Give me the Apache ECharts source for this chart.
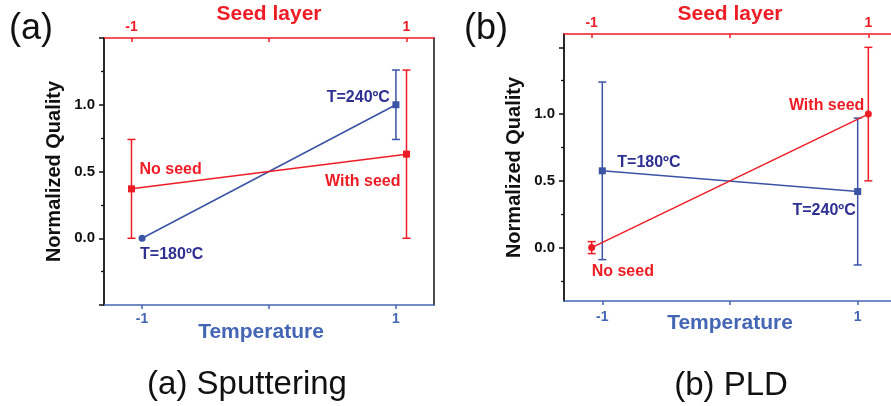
<!DOCTYPE html>
<html><head><meta charset="utf-8">
<script src="https://cdn.jsdelivr.net/npm/echarts@6/dist/echarts.min.js"></script>
<style>html,body{margin:0;padding:0;background:#fff}#c{width:891px;height:406px}</style>
</head><body><div id="c"></div>
<script>
// ---------- data ----------
const xLevels = [-1, 1];
const xTickVals = [-1, 0, 1];
const xLabelVals = [-1, 1];
const yLabelVals = [0, 0.5, 1.0];
const yMajorA = [-0.5, 0, 0.5, 1.0, 1.5];
const yMajorB = [0, 0.5, 1.0, 1.5];
const yMinor = [-0.25, 0.25, 0.75, 1.25];

// (a) Sputtering
const aTempVals = [0.0, 1.0];
const aTempErr  = [0.0, 0.26];
const aSeedVals = [0.37, 0.63];
const aSeedErr  = [0.37, 0.63];
const aTempText = ['T=180ºC', 'T=240ºC'];
const aSeedText = ['No seed', 'With seed'];

// (b) PLD
const bTempVals = [0.575, 0.42];
const bTempErr  = [0.665, 0.55];
const bSeedVals = [0.0, 1.0];
const bSeedErr  = [0.045, 0.5];
const bTempText = ['T=180ºC', 'T=240ºC'];
const bSeedText = ['No seed', 'With seed'];

const panelTags = ['(a)', '(b)'];
const captions = ['(a) Sputtering', '(b) PLD'];

// ---------- style ----------
const FF = '"Liberation Sans", Arial, sans-serif';
const RED = '#ee1c25';
const BLUE = '#3a53a4';
const NAVY = '#2e3192';
const AXBLUE = '#4466b4';
const BLACK = '#111111';

function tempAxis(gi, gap, pad, margin) {
  return {
    type: 'value', gridIndex: gi, position: 'bottom', min: -1.3, max: 1.3,
    name: 'Temperature', nameLocation: 'middle', nameGap: gap, nameMoveOverlap: false,
    nameTextStyle: {color: AXBLUE, fontSize: 21, fontWeight: 'bold', fontFamily: FF, padding: pad},
    axisLine: {show: true, onZero: false, lineStyle: {color: AXBLUE, width: 1.5}},
    axisTick: {show: true, inside: false, length: 4, customValues: xTickVals, lineStyle: {color: AXBLUE, width: 1.5}},
    axisLabel: {show: true, customValues: xLabelVals, margin: margin, color: AXBLUE, fontSize: 14, fontWeight: 'bold', fontFamily: FF,
      formatter: v => String(v)},
    splitLine: {show: false}
  };
}
function seedAxis(gi, gap, margin) {
  return {
    type: 'value', gridIndex: gi, position: 'top', min: -1.2, max: 1.2,
    name: 'Seed layer', nameLocation: 'middle', nameGap: gap, nameMoveOverlap: false,
    nameTextStyle: {color: RED, fontSize: 21, fontWeight: 'bold', fontFamily: FF},
    axisLine: {show: true, onZero: false, lineStyle: {color: RED, width: 1.5}},
    axisTick: {show: true, inside: true, length: 4, customValues: xTickVals, lineStyle: {color: RED, width: 1.5}},
    axisLabel: {show: true, customValues: xLabelVals, margin: margin, color: RED, fontSize: 14, fontWeight: 'bold', fontFamily: FF,
      formatter: v => String(v)},
    splitLine: {show: false}
  };
}
function qualAxis(gi, min, max, majors) {
  return {
    type: 'value', gridIndex: gi, position: 'left', min: min, max: max,
    name: 'Normalized Quality', nameLocation: 'middle', nameGap: 40, nameMoveOverlap: false,
    nameTextStyle: {color: BLACK, fontSize: 20, fontWeight: 'bold', fontFamily: FF},
    axisLine: {show: true, onZero: false, lineStyle: {color: BLACK, width: 1.8}},
    axisTick: {show: true, inside: false, length: 5, customValues: majors, lineStyle: {color: BLACK, width: 1.5}},
    axisLabel: {show: true, customValues: yLabelVals, margin: 9, color: BLACK, fontSize: 15, fontWeight: 'bold', fontFamily: FF,
      formatter: v => v.toFixed(1)},
    splitLine: {show: false}
  };
}
function minorAxis(gi, min, max) {
  return {
    type: 'value', gridIndex: gi, position: 'left', min: min, max: max,
    axisLine: {show: false, onZero: false},
    axisTick: {show: true, inside: false, length: 3, customValues: yMinor, lineStyle: {color: BLACK, width: 1.3}},
    axisLabel: {show: false}, splitLine: {show: false}
  };
}
function frameAxis(gi, min, max) {
  return {
    type: 'value', gridIndex: gi, position: 'right', min: min, max: max,
    axisLine: {show: true, onZero: false, lineStyle: {color: BLACK, width: 1.5}},
    axisTick: {show: false}, axisLabel: {show: false}, splitLine: {show: false}
  };
}

function lab(text, dx, dy, align, color) {
  return {show: true, formatter: text, position: 'inside', offset: [dx, dy], align: align, verticalAlign: 'middle',
    color: color, fontSize: 16, fontWeight: 'bold', fontFamily: FF};
}

function lineSeries(name, xi, yi, vals, color, symbols, labels) {
  return {
    name: name, type: 'line', xAxisIndex: xi, yAxisIndex: yi, z: 3,
    lineStyle: {color: color, width: 1.5}, itemStyle: {color: color},
    symbolSize: 7, showAllSymbol: true,
    data: xLevels.map((x, i) => ({value: [x, vals[i]], symbol: symbols[i], label: labels[i]}))
  };
}
function errSeries(xi, yi, vals, errs, color) {
  return {
    type: 'custom', xAxisIndex: xi, yAxisIndex: yi, z: 2, silent: true, clip: false,
    encode: {x: 0, y: [1, 2]},
    data: xLevels.map((x, i) => [x, vals[i] - errs[i], vals[i] + errs[i]]),
    renderItem: function (params, api) {
      const x = api.value(0), lo = api.value(1), hi = api.value(2);
      if (hi - lo < 1e-9) return null;
      const a = api.coord([x, hi]), b = api.coord([x, lo]);
      const w = 4;
      const st = {stroke: color, lineWidth: 1.5};
      return {type: 'group', children: [
        {type: 'line', shape: {x1: a[0], y1: a[1], x2: b[0], y2: b[1]}, style: st},
        {type: 'line', shape: {x1: a[0] - w, y1: a[1], x2: a[0] + w, y2: a[1]}, style: st},
        {type: 'line', shape: {x1: b[0] - w, y1: b[1], x2: b[0] + w, y2: b[1]}, style: st}
      ]};
    }
  };
}

const chart = echarts.init(document.getElementById('c'), null, {renderer: 'canvas'});
const option = {
  animation: false,
  backgroundColor: '#ffffff',
  grid: [
    {left: 104, top: 38, width: 330, height: 267, containLabel: false, outerBoundsMode: 'none'},
    {left: 564, top: 34, width: 332, height: 267, containLabel: false, outerBoundsMode: 'none'}
  ],
  xAxis: [
    tempAxis(0, 17, [0, 16, 0, 0], 7),
    seedAxis(0, 13, 4),
    tempAxis(1, 12, 0, 9),
    seedAxis(1, 9, 4)
  ],
  yAxis: [
    qualAxis(0, -0.5, 1.5, yMajorA),
    frameAxis(0, -0.5, 1.5),
    minorAxis(0, -0.5, 1.5),
    qualAxis(1, -0.4, 1.6, yMajorB),
    minorAxis(1, -0.4, 1.6)
  ],
  series: [
    errSeries(0, 0, aTempVals, aTempErr, BLUE),
    errSeries(1, 0, aSeedVals, aSeedErr, RED),
    lineSeries('Temperature (a)', 0, 0, aTempVals, BLUE, ['circle', 'rect'],
      [lab(aTempText[0], -2, 16, 'left', NAVY), lab(aTempText[1], -6, -7, 'right', NAVY)]),
    lineSeries('Seed layer (a)', 1, 0, aSeedVals, RED, ['rect', 'rect'],
      [lab(aSeedText[0], 8, -19, 'left', RED), lab(aSeedText[1], -6, 27, 'right', RED)]),
    errSeries(2, 3, bTempVals, bTempErr, BLUE),
    errSeries(3, 3, bSeedVals, bSeedErr, RED),
    lineSeries('Temperature (b)', 2, 3, bTempVals, BLUE, ['rect', 'rect'],
      [lab(bTempText[0], 15, -8, 'left', NAVY), lab(bTempText[1], -2, 19, 'right', NAVY)]),
    lineSeries('Seed layer (b)', 3, 3, bSeedVals, RED, ['circle', 'circle'],
      [lab(bSeedText[0], 0, 24, 'left', RED), lab(bSeedText[1], -4, -9, 'right', RED)])
  ],
  graphic: [
    {type: 'text', x: 9, y: 29, style: {text: panelTags[0], font: '36px ' + FF, fill: BLACK, verticalAlign: 'middle'}},
    {type: 'text', x: 464, y: 29, style: {text: panelTags[1], font: '36px ' + FF, fill: BLACK, verticalAlign: 'middle'}},
    {type: 'text', x: 247, y: 385, style: {text: captions[0], font: '33px ' + FF, fill: BLACK, align: 'center', verticalAlign: 'middle'}},
    {type: 'text', x: 731, y: 386, style: {text: captions[1], font: '33px ' + FF, fill: BLACK, align: 'center', verticalAlign: 'middle'}}
  ]
};
chart.setOption(option);
</script>
</body></html>
